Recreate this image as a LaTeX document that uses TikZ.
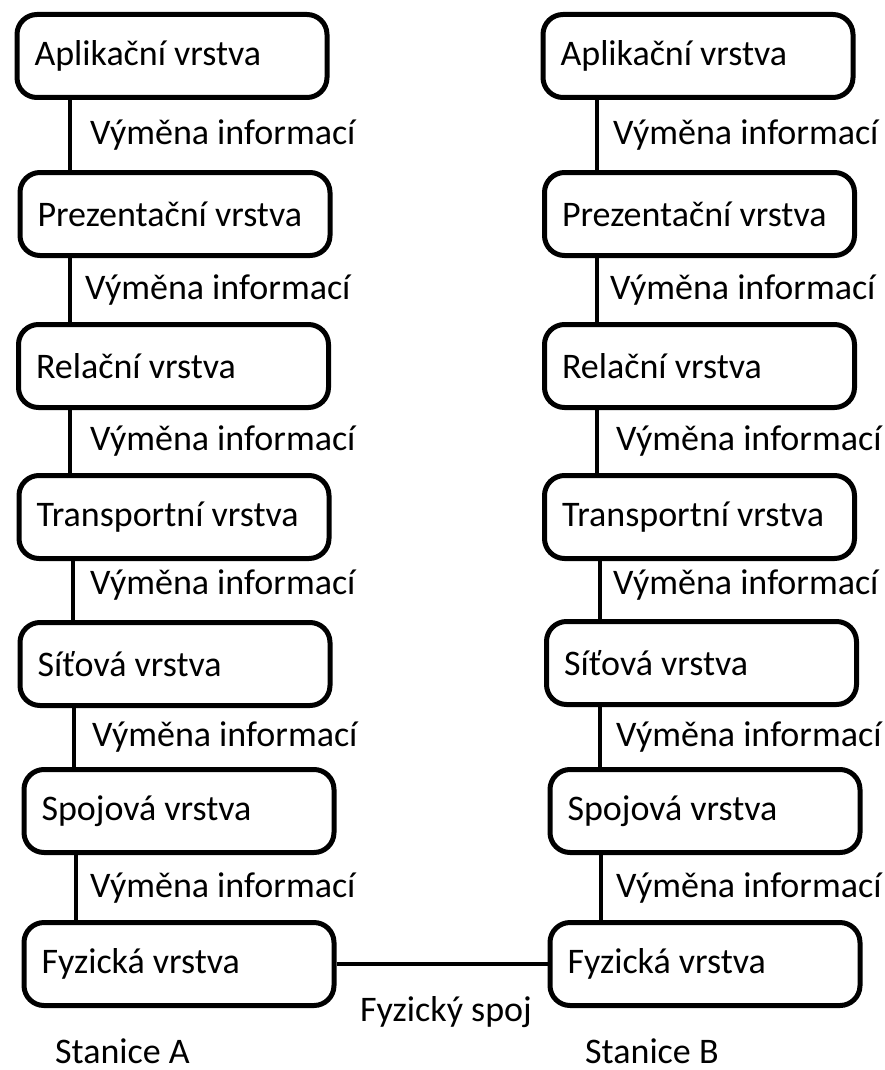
\documentclass[tikz,border=0pt]{standalone}
\usepackage{fontspec}
\setmainfont{Carlito}
\begin{document}
\begin{tikzpicture}[x=1pt,y=-1pt,
  layerbox/.style={draw=black, line width=5pt, rounded corners=20pt, fill=white,
    minimum width=310pt, minimum height=83pt, text width=275pt, inner xsep=15.5pt,
    font=\fontsize{36}{43}\selectfont,
    execute at begin node={\spaceskip=0pt\xspaceskip=0pt}},
  link/.style={draw=black, line width=4.5pt},
  lbl/.style={anchor=west, inner sep=0pt, font=\fontsize{36}{43}\selectfont}]
\useasboundingbox (0,0) rectangle (885,1070);
% Station A
\node[layerbox] (A1) at (172,56) {Aplikační vrstva};
\node[layerbox] (A2) at (175,214) {Prezentační vrstva};
\node[layerbox] (A3) at (173.5,366) {Relační vrstva};
\node[layerbox] (A4) at (174,517) {Transportní vrstva};
\node[layerbox] (A5) at (175,664) {Síťová vrstva};
\node[layerbox] (A6) at (179,811) {Spojová vrstva};
\node[layerbox] (A7) at (179,964) {Fyzická vrstva};
% Station B
\node[layerbox] (B1) at (698,56) {Aplikační vrstva};
\node[layerbox] (B2) at (699.5,214) {Prezentační vrstva};
\node[layerbox] (B3) at (699.5,366) {Relační vrstva};
\node[layerbox] (B4) at (699.5,517) {Transportní vrstva};
\node[layerbox] (B5) at (701.5,663) {Síťová vrstva};
\node[layerbox] (B6) at (705,811) {Spojová vrstva};
\node[layerbox] (B7) at (705,964) {Fyzická vrstva};
% connector x positions
\coordinate (xa1) at (70,0);
\coordinate (xa2) at (70,0);
\coordinate (xa3) at (70,0);
\coordinate (xa4) at (73,0);
\coordinate (xa5) at (74,0);
\coordinate (xa6) at (76,0);
\coordinate (xb1) at (597,0);
\coordinate (xb2) at (597,0);
\coordinate (xb3) at (597,0);
\coordinate (xb4) at (600,0);
\coordinate (xb5) at (600,0);
\coordinate (xb6) at (601,0);
\draw[link] (A1.south -| xa1) -- (A2.north -| xa1);
\draw[link] (A2.south -| xa2) -- (A3.north -| xa2);
\draw[link] (A3.south -| xa3) -- (A4.north -| xa3);
\draw[link] (A4.south -| xa4) -- (A5.north -| xa4);
\draw[link] (A5.south -| xa5) -- (A6.north -| xa5);
\draw[link] (A6.south -| xa6) -- (A7.north -| xa6);
\draw[link] (B1.south -| xb1) -- (B2.north -| xb1);
\draw[link] (B2.south -| xb2) -- (B3.north -| xb2);
\draw[link] (B3.south -| xb3) -- (B4.north -| xb3);
\draw[link] (B4.south -| xb4) -- (B5.north -| xb4);
\draw[link] (B5.south -| xb5) -- (B6.north -| xb5);
\draw[link] (B6.south -| xb6) -- (B7.north -| xb6);
\draw[link] (A7.east) -- (B7.west);
% labels
\node[lbl] (la1) at (90,135) {Výměna informací};
\node[lbl] (la2) at (85,290) {Výměna informací};
\node[lbl] (la3) at (90,441) {Výměna informací};
\node[lbl] (la4) at (90,585) {Výměna informací};
\node[lbl] (la5) at (92,737) {Výměna informací};
\node[lbl] (la6) at (90,888) {Výměna informací};
\node[lbl] (lb1) at (613,135) {Výměna informací};
\node[lbl] (lb2) at (610,290) {Výměna informací};
\node[lbl] (lb3) at (616,441) {Výměna informací};
\node[lbl] (lb4) at (613,585) {Výměna informací};
\node[lbl] (lb5) at (616,737) {Výměna informací};
\node[lbl] (lb6) at (616,888) {Výměna informací};
\node[lbl] (spoj) at (360,1012) {Fyzický spoj};
\node[lbl] (stA) at (55,1051) {Stanice A};
\node[lbl] (stB) at (585,1051) {Stanice B};
\end{tikzpicture}
\end{document}
